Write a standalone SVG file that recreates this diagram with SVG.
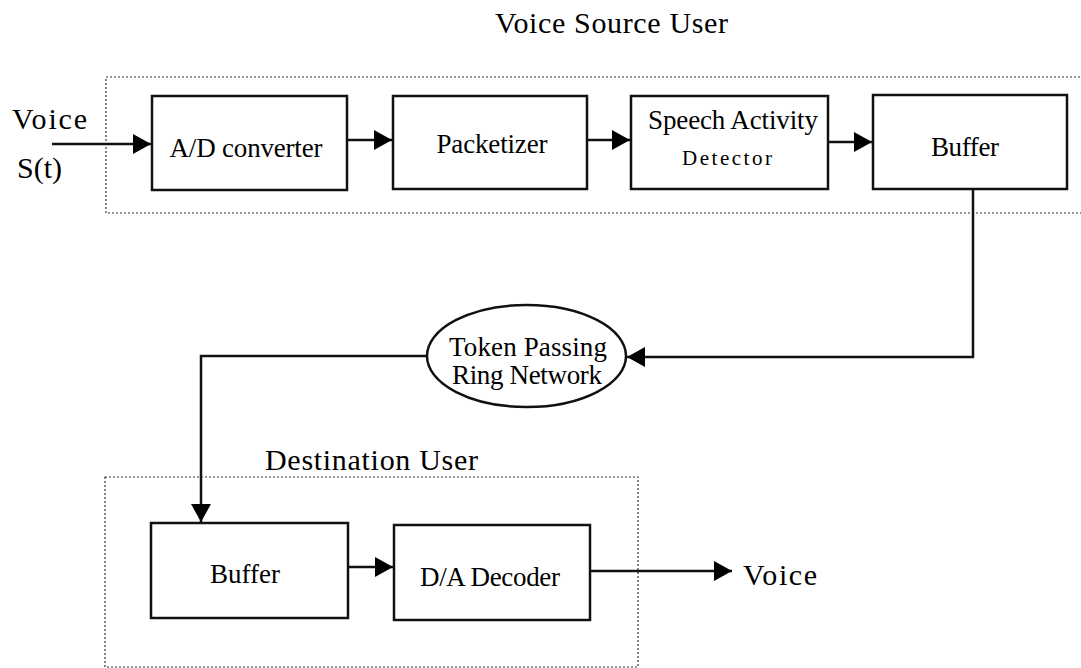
<svg xmlns="http://www.w3.org/2000/svg" width="1081" height="668" viewBox="0 0 1081 668">
  <style>
    text { font-family: "Liberation Serif", "Times New Roman", serif; fill: #000; }
    .box { fill: #fff; stroke: #111; stroke-width: 2.5; }
    .group { fill: none; stroke: #333; stroke-width: 1.2; stroke-dasharray: 2 2; }
    .wire { fill: none; stroke: #111; stroke-width: 2.5; }
    .lbl { font-size: 27px; text-anchor: middle; }
  </style>
  <defs>
    <marker id="arrow" viewBox="0 0 18 20" refX="18" refY="10" markerWidth="18" markerHeight="20" markerUnits="userSpaceOnUse" orient="auto">
      <path d="M0,0 L18,10 L0,20 z" fill="#000"/>
    </marker>
  </defs>

  <rect width="1081" height="668" fill="#fff"/>

  <!-- grouping frames -->
  <g id="source-user">
    <rect class="group" x="106" y="77" width="990" height="136"/>
    <text x="495" y="33" font-size="30" textLength="233" lengthAdjust="spacing">Voice Source User</text>
  </g>
  <g id="destination-user">
    <rect class="group" x="105" y="477" width="533" height="190"/>
    <text x="265" y="470" font-size="30" textLength="213" lengthAdjust="spacing">Destination User</text>
  </g>

  <!-- input / output labels -->
  <g id="voice-in">
    <text x="12" y="129" font-size="30" textLength="75" lengthAdjust="spacing">Voice</text>
    <text x="17" y="178" font-size="30" textLength="45" lengthAdjust="spacing">S(t)</text>
  </g>
  <g id="voice-out">
    <text x="743" y="585" font-size="30" textLength="74" lengthAdjust="spacing">Voice</text>
  </g>

  <!-- processing blocks -->
  <g id="ad-converter">
    <rect class="box" x="152" y="96" width="195" height="94"/>
    <text class="lbl" x="246" y="157" textLength="153" lengthAdjust="spacing">A/D converter</text>
  </g>
  <g id="packetizer">
    <rect class="box" x="393" y="96" width="194" height="93"/>
    <text class="lbl" x="492" y="153" textLength="111" lengthAdjust="spacing">Packetizer</text>
  </g>
  <g id="speech-detector">
    <rect class="box" x="631" y="96" width="197" height="93"/>
    <text class="lbl" x="733" y="129" textLength="170" lengthAdjust="spacing">Speech Activity</text>
    <text x="727" y="165" font-size="21" text-anchor="middle" textLength="90" lengthAdjust="spacing">Detector</text>
  </g>
  <g id="source-buffer">
    <rect class="box" x="873" y="95" width="194" height="94"/>
    <text class="lbl" x="965" y="156" textLength="68" lengthAdjust="spacing">Buffer</text>
  </g>
  <g id="ring-network">
    <ellipse class="box" cx="526.5" cy="356" rx="99.5" ry="51"/>
    <text x="528" y="356" font-size="27" text-anchor="middle" textLength="158" lengthAdjust="spacing">Token Passing</text>
    <text x="527" y="384" font-size="27" text-anchor="middle" textLength="150" lengthAdjust="spacing">Ring Network</text>
  </g>
  <g id="dest-buffer">
    <rect class="box" x="151" y="523" width="197" height="95"/>
    <text class="lbl" x="245" y="583" textLength="70" lengthAdjust="spacing">Buffer</text>
  </g>
  <g id="da-decoder">
    <rect class="box" x="394" y="525" width="196" height="95"/>
    <text class="lbl" x="490" y="586" textLength="140" lengthAdjust="spacing">D/A Decoder</text>
  </g>

  <!-- connectors -->
  <g id="connectors">
    <path class="wire" d="M52,144 H151" marker-end="url(#arrow)"/>
    <path class="wire" d="M347,140 H392" marker-end="url(#arrow)"/>
    <path class="wire" d="M587,140 H630" marker-end="url(#arrow)"/>
    <path class="wire" d="M828,142 H872" marker-end="url(#arrow)"/>
    <path class="wire" d="M973,189 V357 H627" marker-end="url(#arrow)"/>
    <path class="wire" d="M427,356 H201 V522" marker-end="url(#arrow)"/>
    <path class="wire" d="M348,567 H393" marker-end="url(#arrow)"/>
    <path class="wire" d="M590,571 H732" marker-end="url(#arrow)"/>
  </g>
</svg>
